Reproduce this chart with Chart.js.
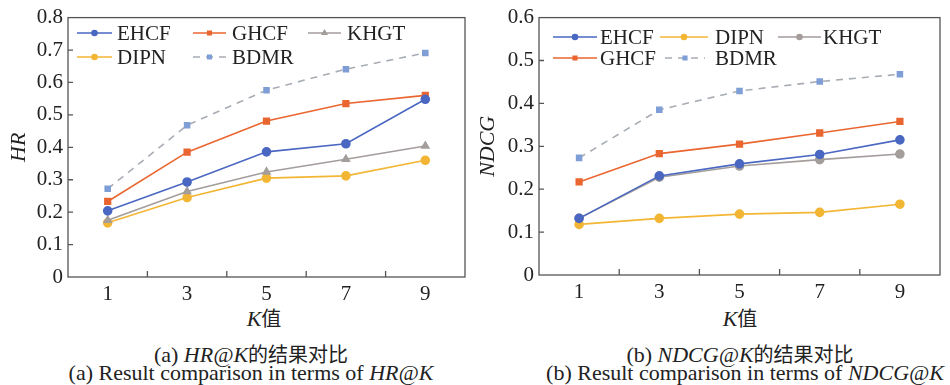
<!DOCTYPE html>
<html>
<head>
<meta charset="utf-8">
<script src="https://cdn.jsdelivr.net/npm/chart.js@4.4.1/dist/chart.umd.min.js"></script>
<style>
  body { margin: 0; background: #fff; width: 950px; height: 385px; overflow: hidden; position: relative; }
  .box { position: absolute; top: 0; width: 475px; height: 300px; }
  .cap { position: absolute; font-family: "Liberation Serif"; font-size: 22px; color: #222; white-space: nowrap; transform: translateX(-50%); line-height: 22px; }
  .cjk { font-family: "Noto Sans CJK SC"; font-size: 20px; }
</style>
</head>
<body>
<div class="box" style="left:0"><canvas id="hr" width="475" height="300"></canvas></div>
<div class="box" style="left:475px"><canvas id="ndcg" width="475" height="300"></canvas></div>

<div class="cap" style="left:264px; top:307px"><i>K</i><span class="cjk">值</span></div>
<div class="cap" style="left:251px; top:343px">(a) <i>HR@K</i><span class="cjk">的结果对比</span></div>
<div class="cap" style="left:251px; top:362px">(a) Result comparison in terms of <i>HR@K</i></div>
<div class="cap" style="left:740px; top:307px"><i>K</i><span class="cjk">值</span></div>
<div class="cap" style="left:740px; top:343px">(b) <i>NDCG@K</i><span class="cjk">的结果对比</span></div>
<div class="cap" style="left:745px; top:362px">(b) Result comparison in terms of <i>NDCG@K</i></div>

<script>
const kValues = [1, 3, 5, 7, 9];

// HR@K
const hrEHCF = [0.204, 0.293, 0.386, 0.411, 0.548];
const hrGHCF = [0.233, 0.385, 0.481, 0.535, 0.560];
const hrKHGT = [0.175, 0.264, 0.324, 0.363, 0.404];
const hrDIPN = [0.167, 0.245, 0.305, 0.312, 0.360];
const hrBDMR = [0.272, 0.468, 0.576, 0.641, 0.691];

// NDCG@K
const ndEHCF = [0.132, 0.231, 0.259, 0.281, 0.315];
const ndGHCF = [0.217, 0.283, 0.305, 0.331, 0.358];
const ndDIPN = [0.118, 0.132, 0.142, 0.146, 0.165];
const ndKHGT = [0.132, 0.228, 0.254, 0.269, 0.282];
const ndBDMR = [0.273, 0.385, 0.429, 0.451, 0.468];

const hrTicks = [0, 0.1, 0.2, 0.3, 0.4, 0.5, 0.6, 0.7, 0.8];
const ndTicks = [0, 0.1, 0.2, 0.3, 0.4, 0.5, 0.6];

const colors = {
  EHCF: '#4a67c2', GHCF: '#ea6631', KHGT: '#a39d9b', DIPN: '#f3b634', BDMR: '#a8adb5', BDMRpt: '#7f9ed6'
};
const serif = 'Liberation Serif';

function series(name, vals, style) {
  const dash = name === 'BDMR';
  return {
    label: name,
    data: vals.map((v, i) => ({ x: kValues[i], y: v })),
    borderColor: colors[name],
    backgroundColor: dash ? colors.BDMRpt : colors[name],
    pointBackgroundColor: dash ? colors.BDMRpt : colors[name],
    pointBorderColor: dash ? colors.BDMRpt : colors[name],
    borderWidth: 1.6,
    borderDash: dash ? [7, 6] : [],
    pointStyle: style,
    pointRadius: dash ? 3.5 : 4,
    tension: 0
  };
}

// frame, inward ticks and legend placed inside the plot
const framePlugin = {
  id: 'frame',
  afterDraw(chart, args, opts) {
    const { ctx, chartArea: a } = chart;
    const ys = chart.scales.y, xs = chart.scales.x;
    ctx.save();
    ctx.strokeStyle = '#555';
    ctx.lineWidth = 1.3;
    ctx.strokeRect(a.left, a.top, a.right - a.left, a.bottom - a.top);
    ctx.beginPath();
    opts.yTicks.forEach(v => {
      if (v === ys.min || v === ys.max) return;
      const y = ys.getPixelForValue(v);
      ctx.moveTo(a.left, y); ctx.lineTo(a.left + 5, y);
    });
    [2, 4, 6, 8].forEach(v => {
      const x = xs.getPixelForValue(v);
      ctx.moveTo(x, a.bottom); ctx.lineTo(x, a.bottom - 6);
    });
    ctx.stroke();

    ctx.font = '21px "' + serif + '"';
    ctx.textBaseline = 'middle';
    ctx.fillStyle = '#222';
    opts.legend.forEach(it => {
      const ds = chart.data.datasets[it.i];
      ctx.save();
      ctx.strokeStyle = ds.borderColor;
      ctx.lineWidth = 1.6;
      ctx.setLineDash(ds.borderDash);
      ctx.beginPath();
      ctx.moveTo(it.x1, it.y); ctx.lineTo(it.x2, it.y);
      ctx.stroke();
      ctx.setLineDash([]);
      ctx.fillStyle = ds.pointBackgroundColor;
      ctx.strokeStyle = ds.pointBorderColor;
      Chart.helpers.drawPoint(ctx, { pointStyle: ds.pointStyle, radius: 2.5, rotation: 0, borderWidth: 1 }, (it.x1 + it.x2) / 2, it.y);
      ctx.restore();
      ctx.fillText(ds.label, it.tx, it.y + 1);
    });
    ctx.restore();
  }
};

function makeChart(id, datasets, yMax, yTicks, yTitle, titlePad, yWidth, xHeight, legend) {
  return new Chart(document.getElementById(id), {
    type: 'line',
    data: { datasets: datasets },
    plugins: [framePlugin],
    options: {
      responsive: false,
      animation: false,
      layout: { padding: { left: 0, right: 10, top: 17, bottom: 0 } },
      plugins: {
        legend: { display: false },
        tooltip: { enabled: false },
        frame: { yTicks: yTicks, legend: legend }
      },
      scales: {
        x: {
          type: 'linear', min: 0, max: 10,
          grid: { display: false, drawTicks: false },
          border: { display: false },
          afterBuildTicks: s => { s.ticks = kValues.map(v => ({ value: v })); },
          afterFit: s => { s.height = xHeight; },
          ticks: { padding: 5, color: '#222', font: { family: serif, size: 21 } }
        },
        y: {
          min: 0, max: yMax,
          grid: { display: false, drawTicks: false },
          border: { display: false },
          afterBuildTicks: s => { s.ticks = yTicks.map(v => ({ value: v })); },
          afterFit: s => { s.width = yWidth; },
          title: { display: true, text: yTitle, color: '#222', padding: { top: titlePad, bottom: 0 }, font: { family: serif, size: 22, style: 'italic' } },
          ticks: {
            padding: 5, color: '#222', font: { family: serif, size: 21 },
            callback: v => v === 0 ? '0' : v.toFixed(1)
          }
        }
      }
    }
  });
}

makeChart('hr', [
  series('EHCF', hrEHCF, 'circle'),
  series('GHCF', hrGHCF, 'rect'),
  series('KHGT', hrKHGT, 'triangle'),
  series('DIPN', hrDIPN, 'circle'),
  series('BDMR', hrBDMR, 'rect')
], 0.8, hrTicks, 'HR', 6, 68, 23, [
  { i: 0, x1: 77, x2: 112, tx: 117, y: 33 },
  { i: 1, x1: 193, x2: 226, tx: 232, y: 33 },
  { i: 2, x1: 308, x2: 341, tx: 347, y: 33 },
  { i: 3, x1: 77, x2: 112, tx: 117, y: 57 },
  { i: 4, x1: 193, x2: 226, tx: 232, y: 57 }
]);

makeChart('ndcg', [
  series('EHCF', ndEHCF, 'circle'),
  series('DIPN', ndDIPN, 'circle'),
  series('KHGT', ndKHGT, 'circle'),
  series('GHCF', ndGHCF, 'rect'),
  series('BDMR', ndBDMR, 'rect')
], 0.6, ndTicks, 'NDCG', 0, 64, 25, [
  { i: 0, x1: 78, x2: 122, tx: 125, y: 37 },
  { i: 1, x1: 185, x2: 233, tx: 240, y: 37 },
  { i: 2, x1: 303, x2: 346, tx: 348, y: 37 },
  { i: 3, x1: 78, x2: 122, tx: 125, y: 58 },
  { i: 4, x1: 190, x2: 230, tx: 240, y: 58 }
]);
</script>
</body>
</html>
